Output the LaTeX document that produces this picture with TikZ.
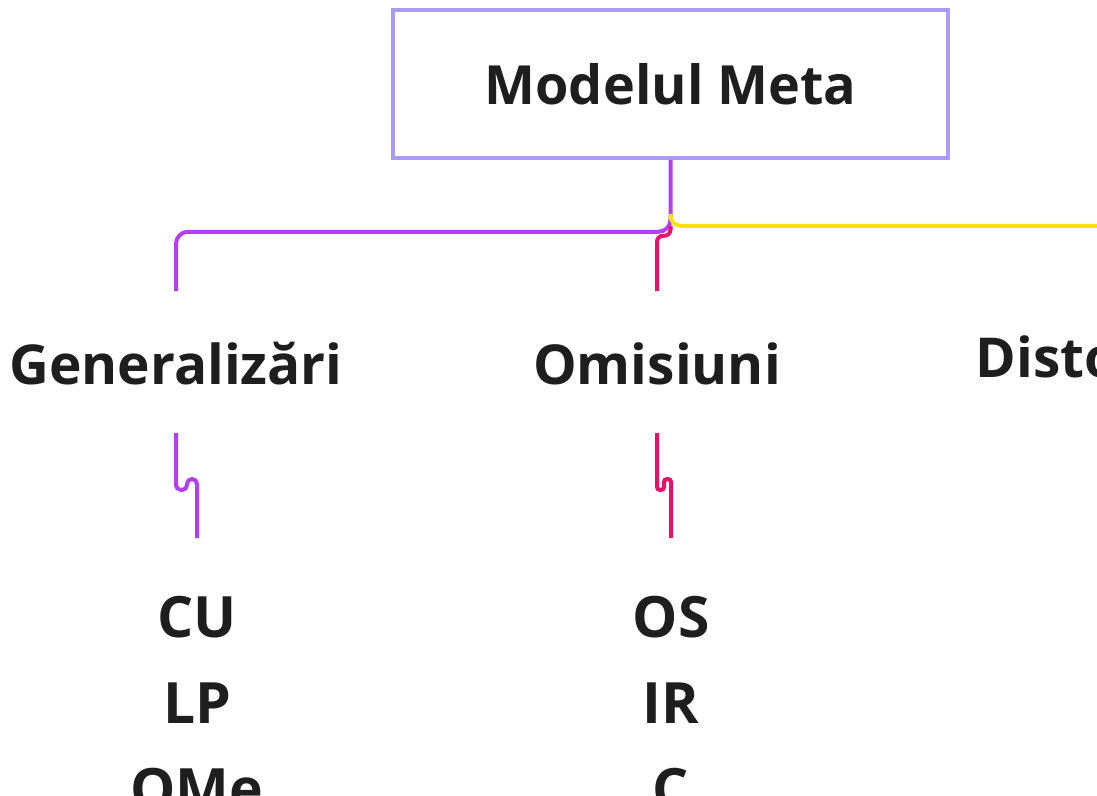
\documentclass[tikz,border=0pt]{standalone}
\usepackage{fontspec}
\setmainfont{Open Sans}
\definecolor{boxline}{HTML}{A99CF7}
\definecolor{genline}{HTML}{B23FF2}
\definecolor{omiline}{HTML}{EB0F6C}
\definecolor{distline}{HTML}{FFE10A}
\definecolor{ink}{HTML}{1E1E1E}
\begin{document}
\begin{tikzpicture}[x=1pt,y=-1pt,
    topic/.style={font=\fontsize{55}{66}\selectfont\bfseries,text=ink,inner sep=0pt,
        text height=48pt,text depth=4pt,outer ysep=45pt,anchor=base},
    leaves/.style={font=\fontsize{57}{86}\selectfont\bfseries,text=ink,align=center,
        inner xsep=0pt,inner ysep=58pt,anchor=north},
    branch/.style={line width=4pt,rounded corners=12pt}]
    \useasboundingbox (0,0) rectangle (1097,795);
    \clip (0,0) rectangle (1097,795);
    \node[draw=boxline,line width=3.5pt,minimum width=555pt,minimum height=148pt,inner sep=0pt,
        font=\fontsize{54}{66}\selectfont\bfseries,text=ink] (root) at (670.5,84) {\raisebox{-2pt}{Modelul Meta}};
    \node[topic] (gen) at (176,384) {Generalizări};
    \node[topic] (omi) at (657,384) {Omisiuni};
    \node[topic] (dist) at (1126,377) {Distorsiuni};
    \node[leaves] (genlist) at (197,538) {CU\\LP\\OMe};
    \node[leaves] (omilist) at (671,538) {OS\\IR\\C};
    \draw[branch,genline] (root.south) -- ++(0,72) -| (gen.north);
    \draw[branch,distline,rounded corners=10pt] (root.south) ++(0,54) -- ++(0,12) -| (dist.north);
    \draw[branch,omiline,rounded corners=6pt] (root.south) ++(0,66) -- ++(0,10) -| (omi.north);
    \foreach \n/\m/\c/\w/\r in {gen/genlist/genline/11/5, omi/omilist/omiline/7/3}
        \draw[branch,\c,rounded corners=\r pt] (\n.south) -- ++(0,57) -- ++(\w,0) -- ++(0,-11) -| (\m.north);
\end{tikzpicture}
\end{document}
